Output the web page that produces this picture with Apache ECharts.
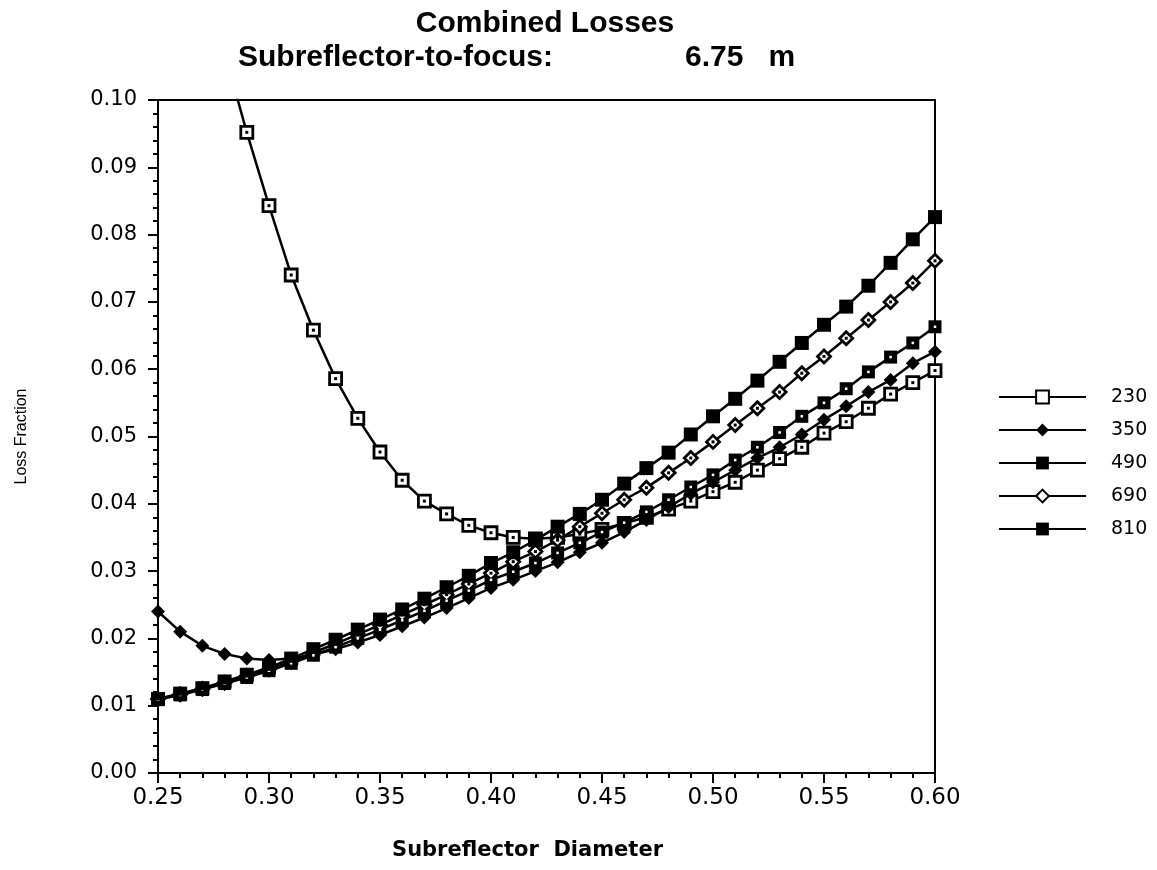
<!DOCTYPE html>
<html>
<head>
<meta charset="utf-8">
<script src="https://cdn.jsdelivr.net/npm/echarts@6/dist/echarts.min.js"></script>
<style>html,body{margin:0;padding:0;background:#fff}#chart{width:1157px;height:870px}</style>
</head>
<body>
<div id="chart"></div>
<script>
// Subreflector diameter (x)
var diameters = [0.25,0.26,0.27,0.28,0.29,0.30,0.31,0.32,0.33,0.34,0.35,0.36,0.37,0.38,0.39,0.40,0.41,0.42,0.43,0.44,0.45,0.46,0.47,0.48,0.49,0.50,0.51,0.52,0.53,0.54,0.55,0.56,0.57,0.58,0.59,0.60];
// Loss fraction for each frequency
var loss230 = [0.150,0.134,0.120,0.107,0.0952,0.0843,0.0740,0.0658,0.0586,0.0527,0.0477,0.0435,0.0404,0.0385,0.0368,0.0357,0.0350,0.0348,0.0350,0.0355,0.0362,0.0371,0.0380,0.0392,0.0404,0.0418,0.0432,0.0450,0.0467,0.0484,0.0505,0.0522,0.0542,0.0563,0.0580,0.0598];
var loss350 = [0.0240,0.0210,0.0189,0.0177,0.0170,0.0168,0.0170,0.0176,0.0184,0.0194,0.0205,0.0218,0.0231,0.0245,0.0260,0.0275,0.0287,0.0300,0.0313,0.0328,0.0342,0.0358,0.0376,0.0395,0.0415,0.0432,0.0450,0.0468,0.0484,0.0503,0.0525,0.0545,0.0566,0.0584,0.0609,0.0626];
var loss490 = [0.0109,0.0116,0.0124,0.0133,0.0142,0.0152,0.0163,0.0175,0.0187,0.0200,0.0213,0.0227,0.0241,0.0256,0.0271,0.0287,0.0299,0.0312,0.0327,0.0342,0.0358,0.0372,0.0388,0.0406,0.0425,0.0443,0.0465,0.0484,0.0506,0.0530,0.0550,0.0571,0.0596,0.0618,0.0639,0.0663];
var loss690 = [0.0110,0.0117,0.0125,0.0134,0.0144,0.0154,0.0166,0.0179,0.0192,0.0206,0.0220,0.0235,0.0250,0.0265,0.0281,0.0297,0.0314,0.0329,0.0346,0.0366,0.0386,0.0406,0.0424,0.0446,0.0468,0.0492,0.0517,0.0542,0.0566,0.0594,0.0619,0.0646,0.0673,0.0700,0.0728,0.0761];
var loss810 = [0.0110,0.0118,0.0126,0.0136,0.0146,0.0157,0.0170,0.0184,0.0198,0.0213,0.0228,0.0243,0.0259,0.0276,0.0293,0.0312,0.0328,0.0346,0.0366,0.0385,0.0406,0.0430,0.0453,0.0476,0.0503,0.0530,0.0556,0.0583,0.0611,0.0639,0.0666,0.0693,0.0724,0.0758,0.0793,0.0826];
var seriesNames = ['230','350','490','690','810'];
var yTickLabels = ['0.00','0.01','0.02','0.03','0.04','0.05','0.06','0.07','0.08','0.09','0.10'];
var xTickLabels = ['0.25','0.30','0.35','0.40','0.45','0.50','0.55','0.60'];

function pairs(vals){ return diameters.map(function(d,i){ return [d, vals[i]]; }); }

var FONT = 'Liberation Sans';
var TICKFONT = 'DejaVu Sans';
var allVals = [loss230, loss350, loss490, loss690, loss810];

var markerDefs = [
  {symbol:'rect', size:12, fill:'#fff', bw:2.8},
  {symbol:'diamond', size:14, fill:'#000', bw:0},
  {symbol:'rect', size:13, fill:'#000', bw:0},
  {symbol:'diamond', size:13, fill:'#fff', bw:2.8},
  {symbol:'rect', size:14, fill:'#000', bw:0}
];
var dotDefs = [
  {idx:0, color:'#000', size:3, symbol:'rect'},
  {idx:2, color:'#fff', size:2.5, symbol:'rect'},
  {idx:3, color:'#000', size:3, symbol:'rect'}
];

var series = seriesNames.map(function(name, i){
  var m = markerDefs[i];
  return {
    name: name, type: 'line', data: pairs(allVals[i]),
    symbol: m.symbol, symbolSize: m.size, showAllSymbol: true,
    lineStyle: {color:'#000', width:2.5},
    itemStyle: {color: m.fill, borderColor:'#000', borderWidth: m.bw, opacity:1},
    clip: true, z: 2 + i*0.01, animation: false
  };
});
dotDefs.forEach(function(d){
  series.push({
    name: seriesNames[d.idx] + '-dot', type: 'line', data: pairs(allVals[d.idx]),
    symbol: d.symbol, symbolSize: d.size, showAllSymbol: true,
    lineStyle: {width:0, opacity:0},
    itemStyle: {color: d.color, borderWidth:0},
    clip: true, z: 3, silent: true, animation: false
  });
});

var chart = echarts.init(document.getElementById('chart'), null, {renderer:'canvas'});
chart.setOption({
  animation: false,
  backgroundColor: '#fff',
  title: [
    {text: 'Combined Losses', left: 540, top: 4, textAlign: 'center',
     textStyle: {fontFamily: FONT, fontWeight: 'bold', fontSize: 30, color:'#000'}},
    {text: 'Subreflector-to-focus:', left: 233, top: 38,
     textStyle: {fontFamily: FONT, fontWeight: 'bold', fontSize: 30, color:'#000'}},
    {text: '6.75   m', left: 680, top: 38,
     textStyle: {fontFamily: FONT, fontWeight: 'bold', fontSize: 30, color:'#000'}}
  ],
  legend: {
    data: seriesNames, orient: 'vertical', left: 998, top: 387, padding: 0,
    itemWidth: 87, itemHeight: 16, itemGap: 13,
    textStyle: {fontFamily: TICKFONT, fontSize: 19, color:'#000', padding:[0,0,0,20], lineHeight:20},
    selectedMode: false
  },
  grid: {left: 158, right: 222, top: 100, bottom: 97, show: true, borderColor:'#000', borderWidth: 2, backgroundColor:'transparent'},
  xAxis: {
    type: 'value', min: 0.25, max: 0.60, interval: 0.05,
    name: 'Subreflector  Diameter', nameLocation: 'middle', nameGap: 67,
    nameTextStyle: {fontFamily: TICKFONT, fontWeight:'bold', fontSize: 21, color:'#000', padding:[0,38,0,0]},
    axisLine: {show:true, lineStyle:{color:'#000', width:2}},
    axisTick: {show:true, length:10, lineStyle:{color:'#000', width:2}},
    minorTick: {show:true, splitNumber:5, length:5, lineStyle:{color:'#000', width:2}},
    splitLine: {show:false},
    axisLabel: {margin: 14, fontFamily: TICKFONT, fontSize: 23, color:'#000',
      formatter: function(v){ var s = v.toFixed(2); return xTickLabels.indexOf(s) >= 0 ? s : ''; }}
  },
  yAxis: {
    type: 'value', min: 0, max: 0.10, interval: 0.01,
    name: 'Loss Fraction', nameLocation: 'middle', nameGap: 128, nameRotate: 90,
    nameTextStyle: {fontFamily: FONT, fontSize: 16, color:'#000'},
    axisLine: {show:true, lineStyle:{color:'#000', width:2}},
    axisTick: {show:true, length:10, lineStyle:{color:'#000', width:2}},
    minorTick: {show:true, splitNumber:5, length:5, lineStyle:{color:'#000', width:2}},
    splitLine: {show:false},
    axisLabel: {margin: 21, fontFamily: TICKFONT, fontSize: 21, color:'#000',
      formatter: function(v){ var s = v.toFixed(2); return yTickLabels.indexOf(s) >= 0 ? s : ''; }}
  },
  series: series
});
</script>
</body>
</html>
